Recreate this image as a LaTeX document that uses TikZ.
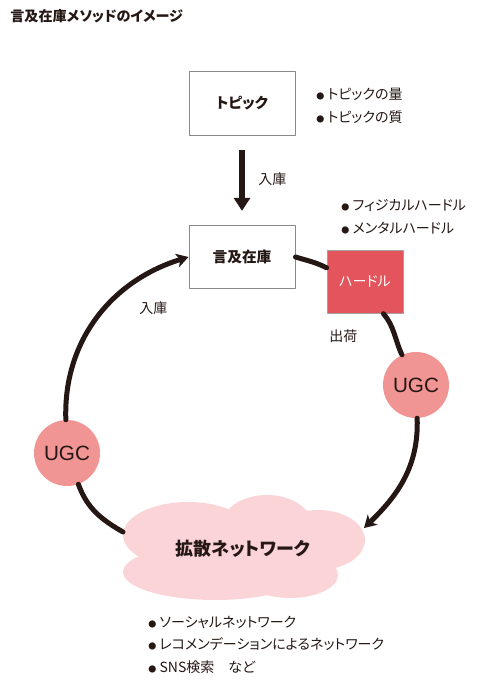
\documentclass[tikz,border=0pt]{standalone}
\usepackage{fontspec}
\setmainfont{Noto Sans CJK JP}[RawFeature=+palt]
\newfontfamily\ugcfont{Liberation Sans}
\usetikzlibrary{arrows.meta}
\definecolor{231815}{rgb}{0.14,0.09,0.08}
\definecolor{8a8a8a}{rgb}{0.54,0.54,0.54}
\definecolor{a0a0a0}{rgb}{0.63,0.63,0.63}
\definecolor{e2545c}{rgb}{0.89,0.33,0.36}
\definecolor{f09395}{rgb}{0.94,0.58,0.58}
\definecolor{f9d3d6}{rgb}{0.98,0.83,0.84}
\newcommand{\bulletmark}{{\fontsize{6pt}{6pt}\selectfont ●}\hspace{2.5pt}}

\begin{document}
\begin{tikzpicture}[line cap=round,line join=round,x=0.75pt,y=0.75pt,color=231815,
		>={Stealth[length=9pt,width=10.5pt,inset=2.5pt]},
		box/.style={draw=8a8a8a,line width=0.75pt,fill=white,minimum width=79.5pt,minimum height=47.5pt,font=\bfseries\fontsize{11pt}{13pt}\selectfont},
		ugc/.style={circle,fill=f09395,minimum size=49.5pt,inner sep=0pt,font=\ugcfont\fontsize{15.5pt}{17pt}\selectfont},
		note/.style={anchor=west,inner sep=0pt,font=\fontsize{10.5pt}{12pt}\selectfont},
		flow/.style={line width=3.75pt}]
		\useasboundingbox (0,0) rectangle (500,-684);
			\fill[color=f9d3d6] (188,-535) ellipse (65 and 33);
			\fill[color=f9d3d6] (267,-525) ellipse (45 and 30);
			\fill[color=f9d3d6] (318,-540) ellipse (47 and 30);
			\fill[color=f9d3d6] (215,-572) ellipse (92 and 28);
			\fill[color=f9d3d6] (290,-575) ellipse (48 and 23);
			\fill[color=f9d3d6] (150,-530) rectangle (330,-580);
		\node[anchor=west,inner sep=0pt,font=\bfseries\fontsize{10.6pt}{12pt}\selectfont] (title) at (10,-16) {言及在庫メソッドのイメージ};
		\node[box] (topic) at (242,-103.5) {トピック};
		\node[box] (stock) at (242,-257) {言及在庫};
		\node[draw=a0a0a0,line width=0.6pt,fill=e2545c,minimum width=57pt,minimum height=47.25pt,text=white,font=\fontsize{10.5pt}{12pt}\selectfont] (hurdle) at (365,-281.8) {ハードル};
		\node[ugc] (ugcR) at (416,-385) {UGC};
		\node[ugc] (ugcL) at (67,-453) {UGC};
		\node[font=\bfseries\fontsize{13.5pt}{15pt}\selectfont] (net) at (243,-549) {拡散ネットワーク};
		\coordinate (cloudIn) at (364,-528);
		\coordinate (cloudOut) at (123,-532);
		\draw[line width=4.2pt,line cap=butt,shorten <=10.5pt,shorten >=10.5pt,-{Triangle[length=9.75pt,width=12pt]}] (topic) -- (stock);
		\draw[flow,->] (ugcL) to[out=92,in=197] (stock.west);
		\draw[flow] (stock.east) to[out=-17,in=153] (hurdle.160);
		\draw[flow] (hurdle.-60) to[out=-50,in=115] (ugcR);
		\draw[flow,->] (ugcR) to[out=-88,in=44] (cloudIn);
		\draw[flow] (cloudOut) to[out=150,in=-70] (ugcL);
		\node[note] (inTop) at (258,-179) {入庫};
		\node[note] (inLeft) at (139,-308) {入庫};
		\node[note] (ship) at (329,-336) {出荷};
		\node[note] (topic1) at (316,-94) {\bulletmark トピックの量};
		\node[note] (topic2) at (316,-117) {\bulletmark トピックの質};
		\node[note] (hurdle1) at (341,-205) {\bulletmark フィジカルハードル};
		\node[note] (hurdle2) at (341,-228) {\bulletmark メンタルハードル};
		\node[note] (net1) at (148,-622) {\bulletmark ソーシャルネットワーク};
		\node[note] (net2) at (148,-644) {\bulletmark レコメンデーションによるネットワーク};
		\node[note] (net3) at (148,-667) {\bulletmark SNS検索　など};
	\end{tikzpicture}
\end{document}
